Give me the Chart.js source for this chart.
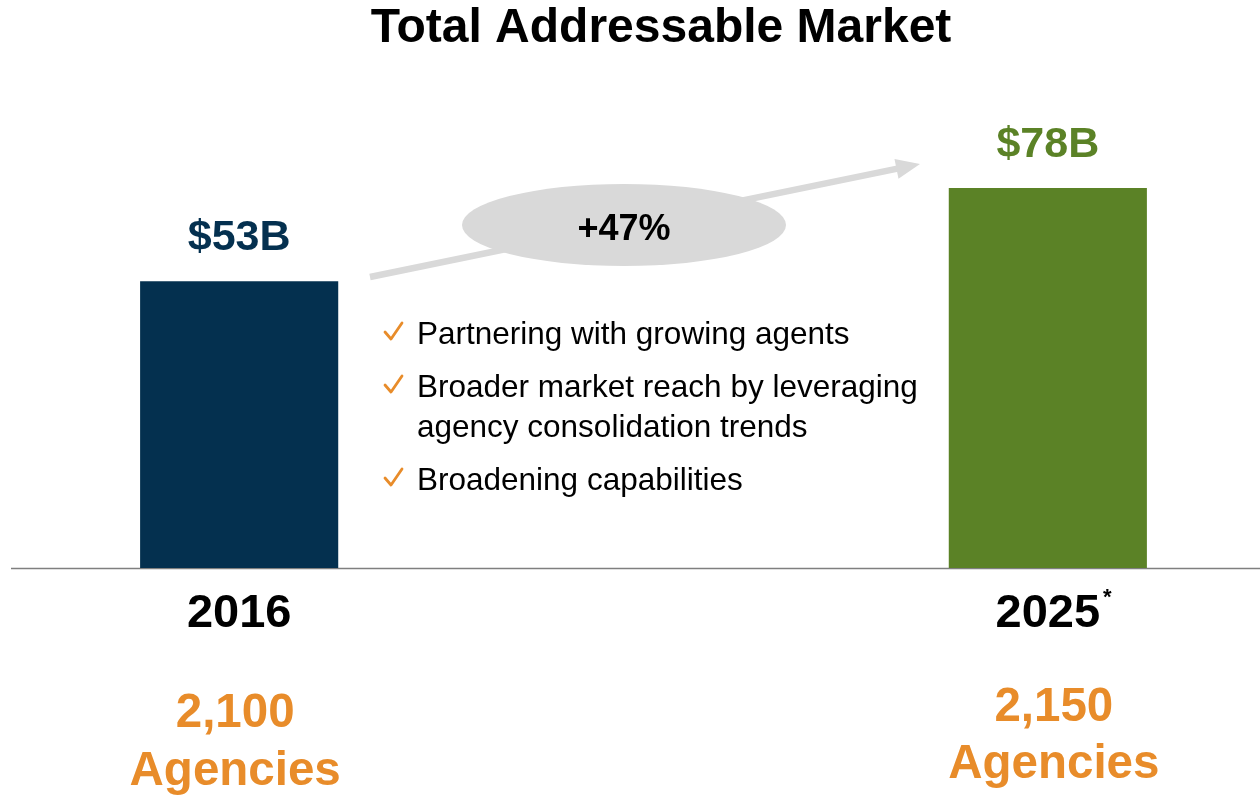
<!DOCTYPE html>
<html>
<head>
<meta charset="utf-8">
<script src="https://cdn.jsdelivr.net/npm/chart.js@4.4.1/dist/chart.umd.min.js"></script>
<style>
  html,body{margin:0;padding:0;background:#fff;}
  #wrap{width:1260px;height:795px;position:relative;}
</style>
</head>
<body>
<div id="wrap"><canvas id="tamChart" width="1260" height="795"></canvas></div>
<script>
/* Total Addressable Market — two bars, growth arrow, bullet notes */

const years = ['2016', '', '2025'];
const marketValues = [53, null, 78];          // $B
const valueLabels = ['$53B', '', '$78B'];
const agencyCounts = ['2,100', '', '2,150'];
const yearNotes = ['', '', '*'];
const growthLabel = '+47%';
const bullets = [
  ['Partnering with growing agents'],
  ['Broader market reach by leveraging', 'agency consolidation trends'],
  ['Broadening capabilities']
];
const title = 'Total Addressable Market';

const FONT = '"Liberation Sans", Arial, sans-serif';
const NAVY = '#04304f', GREEN = '#5b8226', ORANGE = '#e88c2a', GREY = '#d9d9d9';

function check(ctx, x, y){
  ctx.save();
  ctx.strokeStyle = ORANGE; ctx.lineWidth = 2.8; ctx.lineCap = 'round'; ctx.lineJoin = 'round';
  ctx.beginPath();
  ctx.moveTo(x, y);
  ctx.lineTo(x + 6, y + 7);
  ctx.lineTo(x + 17, y - 9);
  ctx.stroke();
  ctx.restore();
}

const overlay = {
  id:'overlay',
  beforeDatasetsDraw(chart){
    const ctx = chart.ctx;
    ctx.save();
    // baseline
    const yBase = chart.chartArea.bottom + 0.5;
    ctx.strokeStyle = '#7f7f7f'; ctx.lineWidth = 1.5;
    ctx.beginPath(); ctx.moveTo(11, yBase); ctx.lineTo(1260, yBase); ctx.stroke();

    // growth arrow
    const x0 = 370, y0 = 277, x1 = 920, y1 = 164;
    const ang = Math.atan2(y1-y0, x1-x0);
    ctx.strokeStyle = GREY; ctx.fillStyle = GREY; ctx.lineWidth = 6.5;
    ctx.beginPath(); ctx.moveTo(x0, y0);
    ctx.lineTo(x1 - 18*Math.cos(ang), y1 - 18*Math.sin(ang)); ctx.stroke();
    ctx.beginPath();
    ctx.moveTo(x1, y1);
    ctx.lineTo(x1 - 24*Math.cos(ang) + 10*Math.sin(ang), y1 - 24*Math.sin(ang) - 10*Math.cos(ang));
    ctx.lineTo(x1 - 24*Math.cos(ang) - 10*Math.sin(ang), y1 - 24*Math.sin(ang) + 10*Math.cos(ang));
    ctx.closePath(); ctx.fill();

    // ellipse + label
    ctx.beginPath(); ctx.ellipse(624, 225, 162, 41, 0, 0, Math.PI*2); ctx.fill();
    ctx.fillStyle = '#000'; ctx.font = 'bold 36px ' + FONT;
    ctx.textAlign = 'center'; ctx.textBaseline = 'middle';
    ctx.fillText(growthLabel, 624, 230);
    ctx.restore();
  },
  afterDraw(chart){
    const ctx = chart.ctx, xs = chart.scales.x, meta = chart.getDatasetMeta(0);
    ctx.save();
    ctx.textAlign = 'center'; ctx.textBaseline = 'middle';

    ctx.fillStyle = '#000'; ctx.font = 'bold 48px ' + FONT;
    ctx.fillText(title, 661, 29);

    years.forEach((yr, i) => {
      if(!yr) return;
      const x = xs.getPixelForValue(i);
      const bar = meta.data[i];
      ctx.textAlign = 'center';
      ctx.fillStyle = i === 0 ? NAVY : GREEN;
      ctx.font = 'bold 43px ' + FONT;
      ctx.fillText(valueLabels[i], x, bar.y - 43);

      ctx.fillStyle = '#000'; ctx.font = 'bold 47px ' + FONT;
      ctx.fillText(yr, x, 614);
      if(yearNotes[i]){
        const w = ctx.measureText(yr).width;
        ctx.font = 'bold 22px ' + FONT; ctx.textAlign = 'left';
        ctx.fillText(yearNotes[i], x + w/2 + 3, 598);
        ctx.textAlign = 'center';
      }

      // agency counts sit a little off the bar centre in the original
      const ax = i === 0 ? x - 4 : x + 6;
      ctx.fillStyle = ORANGE; ctx.font = 'bold 47.5px ' + FONT;
      ctx.fillText(agencyCounts[i], ax, i === 0 ? 714 : 708);
      ctx.fillText('Agencies', ax, i === 0 ? 772 : 765);
    });

    // bullet notes
    ctx.textAlign = 'left';
    let y = 335;
    bullets.forEach(lines => {
      check(ctx, 385, y - 3);
      ctx.fillStyle = '#000'; ctx.font = '31.5px ' + FONT;
      lines.forEach((ln, k) => ctx.fillText(ln, 417, y + k*40));
      y += (lines.length - 1)*40 + 53;
    });
    ctx.restore();
  }
};

new Chart(document.getElementById('tamChart'), {
  type:'bar',
  data:{
    labels: years,
    datasets:[{
      data: marketValues,
      base: -24,
      backgroundColor: [NAVY, 'rgba(0,0,0,0)', GREEN],
      borderWidth: 0,
      barPercentage: 1,
      categoryPercentage: 0.49
    }]
  },
  options:{
    responsive:false,
    animation:false,
    layout:{ padding:{ left:37, right:10, top:188, bottom:227 } },
    plugins:{ legend:{display:false}, title:{display:false}, tooltip:{enabled:false} },
    scales:{
      x:{ display:false },
      y:{ display:false, min:-24, max:78 }
    }
  },
  plugins:[overlay]
});
</script>
</body>
</html>
